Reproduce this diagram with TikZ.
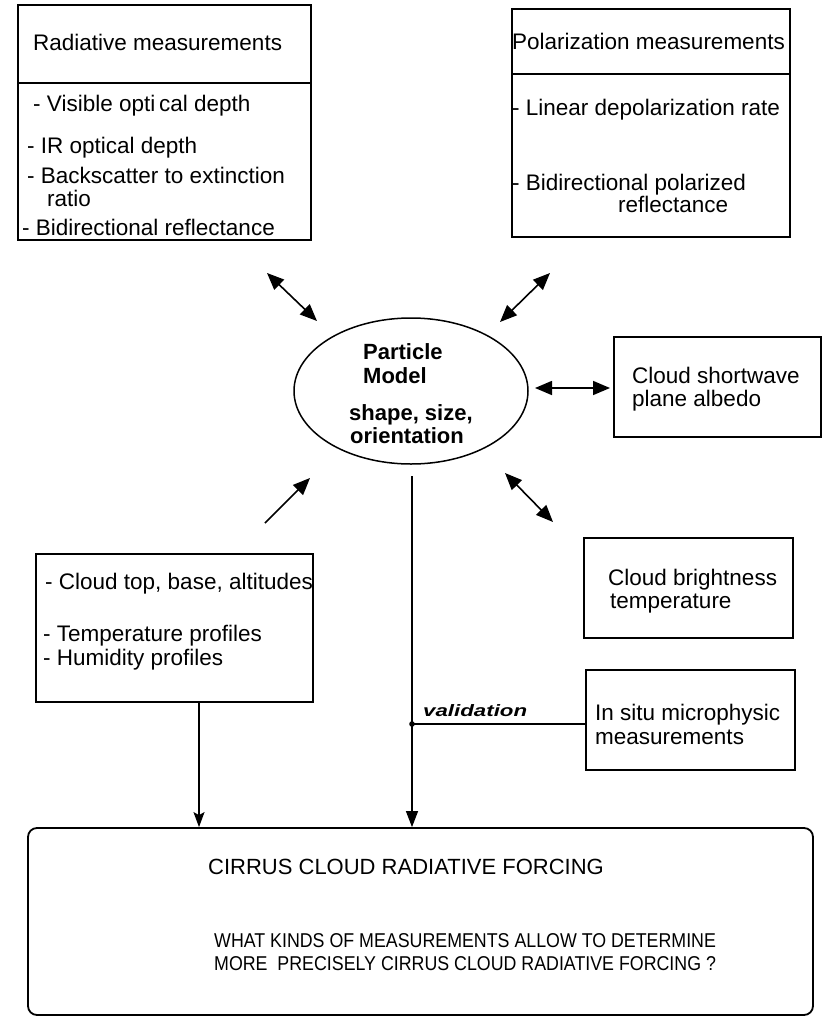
\documentclass[tikz,border=0pt]{standalone}
\usepackage{fontspec}
\setmainfont{Liberation Sans}
\newfontfamily\condfont{Liberation Sans}[FakeStretch=0.89]
\newfontfamily\handfont{Liberation Sans}[FakeStretch=1.35]
\usetikzlibrary{shapes.geometric,arrows.meta}
\begin{document}
\begin{tikzpicture}[x=1pt,y=-1pt,
  frame/.style={draw,line width=1.5pt,inner sep=0pt,rectangle},
  txt/.style={anchor=base west,inner sep=0pt,font=\fontsize{22.5}{24}\selectfont},
  btxt/.style={anchor=base west,inner sep=0pt,font=\fontsize{22}{24}\selectfont\bfseries},
  ctxt/.style={anchor=base west,inner sep=0pt,font=\fontsize{20}{22}\selectfont\condfont},
  dbl/.style={line width=1.6pt,{Triangle[length=17pt,width=14pt]}-{Triangle[length=17pt,width=14pt]}},
  sgl/.style={line width=1.6pt,-{Triangle[length=17pt,width=14pt]}},
  vline/.style={line width=1.3pt,-{Triangle[length=16pt,width=12pt]}},
  lline/.style={line width=1.3pt,-{Stealth[length=15pt,width=11pt,inset=3pt]}}]
\useasboundingbox (0,0) rectangle (823,1019);
\fill[white] (0,0) rectangle (823,1019);

% Radiative measurements box
\node[frame,minimum width=293pt,minimum height=235pt] (rad) at (164.5,122.5) {};
\draw[line width=1.5pt] (18,83) -- (311,83);
\node[txt] (radt) at (33,51) {Radiative measurements};
\node[txt] (rad1) at (33,112) {- Visible opti\,cal depth};
\node[txt] (rad2) at (27,154) {- IR optical depth};
\node[txt] (rad3) at (27,184) {- Backscatter to extinction};
\node[txt] (rad4) at (47,207) {ratio};
\node[txt] (rad5) at (22,235) {- Bidirectional reflectance};

% Polarization measurements box
\node[frame,minimum width=278pt,minimum height=228pt] (pol) at (651,123) {};
\draw[line width=1.5pt] (512,74) -- (790,74);
\node[txt] (polt) at (512,50) {Polarization measurements};
\node[txt] (pol1) at (512,116) {- Linear depolarization rate};
\node[txt] (pol2) at (512,190) {- Bidirectional polarized};
\node[txt] (pol3) at (618,212) {reflectance};

% Particle model ellipse
\node[draw,ellipse,line width=1.5pt,inner sep=0pt,minimum width=234pt,minimum height=146pt] (pm) at (411,391) {};
\node[btxt] (pm1) at (363,359) {Particle};
\node[btxt] (pm2) at (363,383) {Model};
\node[btxt] (pm3) at (349,420) {shape, size,};
\node[btxt] (pm4) at (350,443) {orientation};

% Cloud shortwave box
\node[frame,minimum width=207pt,minimum height=100pt] (sw) at (717.5,387) {};
\node[txt] (sw1) at (632,383) {Cloud shortwave};
\node[txt] (sw2) at (632,406) {plane albedo};

% Cloud brightness box
\node[frame,minimum width=209pt,minimum height=100pt] (bt) at (688.5,588) {};
\node[txt] (bt1) at (608,585) {Cloud brightness};
\node[txt] (bt2) at (610,608) {temperature};

% Left box
\node[frame,minimum width=277pt,minimum height=148pt] (lb) at (174.5,628) {};
\node[txt] (lb1) at (45,589) {- Cloud top, base, altitudes};
\node[txt] (lb2) at (43,641) {- Temperature profiles};
\node[txt] (lb3) at (43,665) {- Humidity profiles};

% In situ box
\node[frame,minimum width=209pt,minimum height=100pt] (is) at (690.5,720) {};
\node[txt] (is1) at (595,720) {In situ microphysic};
\node[txt] (is2) at (595,744) {measurements};

% Big box
\node[draw,line width=1.8pt,rounded corners=9pt,inner sep=0pt,minimum width=785pt,minimum height=187pt] (big) at (420.5,921.5) {};
\node[anchor=base west,inner sep=0pt,font=\fontsize{22}{24}\selectfont] (bg1) at (208,874) {CIRRUS CLOUD RADIATIVE FORCING};
\node[ctxt] (bg2) at (214,947) {WHAT KINDS OF MEASUREMENTS ALLOW TO DETERMINE};
\node[ctxt] (bg3) at (214,970) {MORE\ \ PRECISELY CIRRUS CLOUD RADIATIVE FORCING ?};

% arrow end points
\coordinate (a1s) at (267,273); \coordinate (a1e) at (317,321);
\coordinate (a2s) at (550,273); \coordinate (a2e) at (500,322);
\coordinate (a3s) at (535,388); \coordinate (a3e) at (610,388);
\coordinate (a4s) at (505,473); \coordinate (a4e) at (553,522);
\coordinate (a5s) at (265,523); \coordinate (a5e) at (310,478);
\coordinate (vtop) at (412,476);
\coordinate (vdot) at (412,724);

\draw[dbl] (a1s) -- (a1e);
\draw[dbl] (a2s) -- (a2e);
\draw[dbl] (a3s) -- (a3e);
\draw[dbl] (a4s) -- (a4e);
\draw[sgl] (a5s) -- (a5e);

\draw[vline] (vtop) -- (vtop |- big.north);
\draw[lline] (lb.south -| 199,0) -- (big.north -| 199,0);
\draw[line width=1.3pt] (vdot) -- (vdot -| is.west);
\fill (vdot) circle (2.8pt);
\node[anchor=base west,inner sep=0pt,font=\fontsize{16.5}{18}\selectfont\handfont\bfseries\itshape] (val) at (423,716) {validation};
\end{tikzpicture}
\end{document}
